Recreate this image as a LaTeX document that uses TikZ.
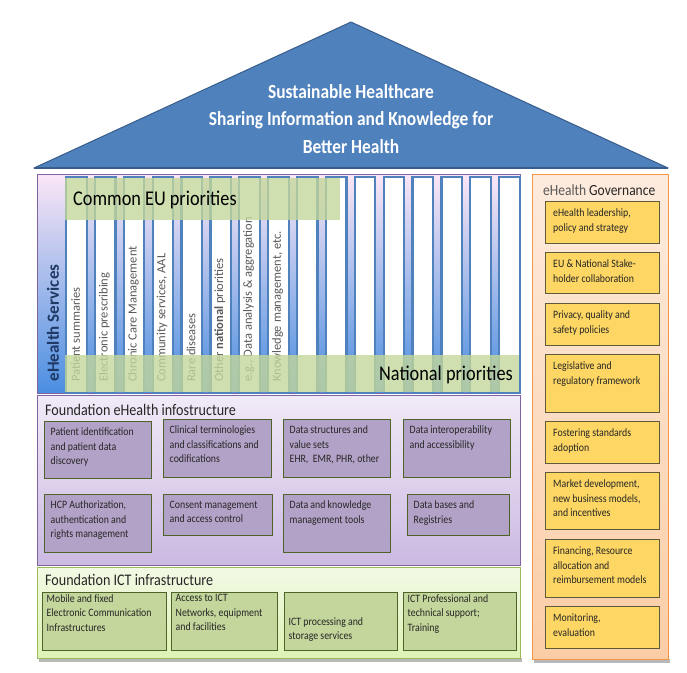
\documentclass[tikz,border=0pt]{standalone}
\usepackage{fontspec}
\setmainfont{Carlito}[FakeStretch=0.87]
\newfontfamily\rotfont{Carlito}
\definecolor{roofblue}{HTML}{4F81BD}
\definecolor{roofedge}{HTML}{385D8A}
\definecolor{pillarblue}{HTML}{4F81BD}
\definecolor{bandgreen}{HTML}{C4D79B}
\definecolor{svctop}{HTML}{FBE6F6}
\definecolor{svcbot}{HTML}{4A8EE0}
\definecolor{purpleedge}{HTML}{8064A2}
\definecolor{purpletop}{HTML}{F1EAF7}
\definecolor{purplebot}{HTML}{CBB9E2}
\definecolor{purplebox}{HTML}{B3A2C7}
\definecolor{olive}{HTML}{4F6228}
\definecolor{greentop}{HTML}{F2F9E4}
\definecolor{greenbot}{HTML}{DDF3B4}
\definecolor{greenedge}{HTML}{9BBB59}
\definecolor{greenbox}{HTML}{C3D69B}
\definecolor{orangetop}{HTML}{FDEBDD}
\definecolor{orangebot}{HTML}{FBCDA6}
\definecolor{orangeedge}{HTML}{F79646}
\definecolor{yellowbox}{HTML}{FDD663}
\definecolor{yellowedge}{HTML}{5E5B3A}
\definecolor{navy}{HTML}{1F3864}
\definecolor{txt}{HTML}{262626}
\definecolor{lbl}{HTML}{595959}
\newcommand{\mkbox}[8]{%
  \node[#2, anchor=north west, minimum width=#5pt, minimum height=#6pt, inner sep=0pt] (#1) at (#3,#4) {};
  \node[boxtext, anchor=north west, #7] at (#1.north west) {#8};
}
\begin{document}
\begin{tikzpicture}[x=1pt,y=-1pt,
  pillar/.style={draw=pillarblue, fill=white, line width=2.2pt, anchor=north west, inner sep=0pt, minimum width=20.5pt, minimum height=216pt},
  plabel/.style={font=\rotfont\fontsize{12.5}{14}\selectfont, text=lbl, rotate=90, anchor=west, inner sep=0pt},
  band/.style={fill=bandgreen, fill opacity=0.8, draw=none},
  bandtext/.style={font=\fontsize{21}{24}\selectfont, text=black, inner sep=0pt},
  sectitle/.style={font=\fontsize{16.2}{19}\selectfont, text=txt, anchor=west, inner sep=0pt},
  boxtext/.style={font=\fontsize{11.3}{14.6}\selectfont, text=txt, align=left, inner sep=0pt},
  ybox/.style={draw=yellowedge, fill=yellowbox, line width=1pt},
  pbox/.style={draw=olive, fill=purplebox, line width=1pt},
  gbox/.style={draw=olive, fill=greenbox, line width=1pt}]
\useasboundingbox (0,0) rectangle (687,672);
\fill[white] (0,0) rectangle (687,672);

% roof
\coordinate (rl) at (34,168);
\coordinate (ra) at (351,22);
\coordinate (rr) at (668,168);
\draw[fill=roofblue, draw=roofedge, line width=1pt, line join=round] (rl) -- (ra) -- (rr) -- cycle;
\draw[roofedge, line width=2pt] (rl) -- (rr);
\node[font=\bfseries\fontsize{20}{27.5}\selectfont, text=white, align=center] (title) at (351,119)
  {Sustainable Healthcare\\Sharing Information and Knowledge for\\Better Health};

% services
\node[draw=purpleedge, line width=0.8pt, top color=svctop, bottom color=svcbot, anchor=north west,
  minimum width=483pt, minimum height=219pt, inner sep=0pt] (svc) at (37,174) {};
\foreach \i in {0,...,15}{
  \pgfmathsetmacro{\px}{65+\i*28.87}
  \node[pillar] (p\i) at (\px,176) {};
}
\node[font=\rotfont\bfseries\fontsize{17}{20}\selectfont, text=navy, rotate=90, inner sep=0pt] (svct) at (53,323) {eHealth Services};
\foreach \i/\t in {0/{Patient summaries}, 1/{Electronic prescribing}, 2/{Chronic Care Management},
  3/{Community services, AAL}, 4/{Rare diseases}, 5/{Other \textbf{national} priorities},
  6/{e.g., Data analysis \& aggregation}, 7/{Knowledge management, etc.}}{
  \pgfmathsetmacro{\lx}{65+\i*28.87+10.5}
  \node[plabel] (l\i) at (\lx,382) {\t};
}
\fill[band] (65,178) rectangle (340,220);
\fill[band] (65,355) rectangle (519,392);
\node[bandtext, anchor=west] (eu) at (73,200) {Common EU priorities};
\node[bandtext, anchor=east] (np) at (513,375) {National priorities};

% foundation eHealth
\node[draw=purpleedge, line width=0.8pt, top color=purpletop, bottom color=purplebot, anchor=north west,
  minimum width=483pt, minimum height=170pt, inner sep=0pt] (feh) at (37,395) {};
\node[sectitle] (feht) at (45,410) {Foundation eHealth infostructure};
\mkbox{e1}{pbox}{44}{421}{107}{57}{xshift=6.5pt,yshift=-6.5pt}{Patient identification\\and patient data\\discovery}
\mkbox{e2}{pbox}{163}{419}{108}{58}{xshift=6.5pt,yshift=-6.5pt}{Clinical terminologies\\and classifications and\\codifications}
\mkbox{e3}{pbox}{283}{419}{107}{58}{xshift=6.5pt,yshift=-6.5pt}{Data structures and\\value sets\\EHR,\ \ EMR, PHR, other}
\mkbox{e4}{pbox}{403}{419}{107}{58}{xshift=6.5pt,yshift=-6.5pt}{Data interoperability\\and accessibility}
\mkbox{e5}{pbox}{44}{494}{107}{58}{xshift=6.5pt,yshift=-6.5pt}{HCP Authorization,\\authentication and\\rights management}
\mkbox{e6}{pbox}{163}{494}{109}{41}{xshift=6.5pt,yshift=-6.5pt}{Consent management\\and access control}
\mkbox{e7}{pbox}{283}{494}{107}{58}{xshift=6.5pt,yshift=-6.5pt}{Data and knowledge\\management tools}
\mkbox{e8}{pbox}{407}{494}{102}{41}{xshift=6.5pt,yshift=-6.5pt}{Data bases and\\Registries}

% foundation ICT
\fill[gray!55] (39,658) rectangle (522,662);
\node[draw=greenedge, line width=0.8pt, top color=greentop, bottom color=greenbot, anchor=north west,
  minimum width=483pt, minimum height=91pt, inner sep=0pt] (fict) at (37,567) {};
\node[sectitle] (fictt) at (45,580) {Foundation ICT infrastructure};
\mkbox{i1}{gbox}{42}{592}{124}{58}{xshift=4.5pt,yshift=-2pt}{Mobile and fixed\\Electronic Communication\\Infrastructures}
\mkbox{i2}{gbox}{171}{592}{106}{58}{xshift=4.5pt,yshift=-2pt}{Access to ICT\\Networks, equipment\\and facilities}
\mkbox{i3}{gbox}{284}{592}{113}{58}{xshift=4.5pt,yshift=-25pt}{ICT processing and\\storage services}
\mkbox{i4}{gbox}{403}{592}{113}{58}{xshift=4.5pt,yshift=-2pt}{ICT Professional and\\technical support;\\Training}

% governance
\fill[gray!55] (534,659) rectangle (670,663);
\node[draw=orangeedge, line width=0.8pt, top color=orangetop, bottom color=orangebot, anchor=north west,
  minimum width=136pt, minimum height=485pt, inner sep=0pt] (gov) at (532,174) {};
\node[font=\fontsize{15.5}{18}\selectfont, anchor=west, inner sep=0pt] (govt) at (543,190)
  {\textcolor{lbl}{eHealth} \textcolor{txt}{Governance}};
\mkbox{g1}{ybox}{545}{201}{114}{42}{xshift=8pt,yshift=-7.5pt}{eHealth leadership,\\policy and strategy}
\mkbox{g2}{ybox}{545}{252}{114}{41}{xshift=8pt,yshift=-7.5pt}{EU \& National Stake-\\holder collaboration}
\mkbox{g3}{ybox}{545}{303}{114}{42}{xshift=8pt,yshift=-7.5pt}{Privacy, quality and\\safety policies}
\mkbox{g4}{ybox}{545}{354}{114}{58}{xshift=8pt,yshift=-7.5pt}{Legislative and\\regulatory framework}
\mkbox{g5}{ybox}{545}{421}{114}{42}{xshift=8pt,yshift=-7.5pt}{Fostering standards\\adoption}
\mkbox{g6}{ybox}{545}{472}{114}{57}{xshift=8pt,yshift=-7.5pt}{Market development,\\new business models,\\and incentives}
\mkbox{g7}{ybox}{545}{539}{114}{58}{xshift=8pt,yshift=-7.5pt}{Financing, Resource\\allocation and\\reimbursement models}
\mkbox{g8}{ybox}{545}{606}{114}{42}{xshift=8pt,yshift=-7.5pt}{Monitoring,\\evaluation}
\end{tikzpicture}
\end{document}
